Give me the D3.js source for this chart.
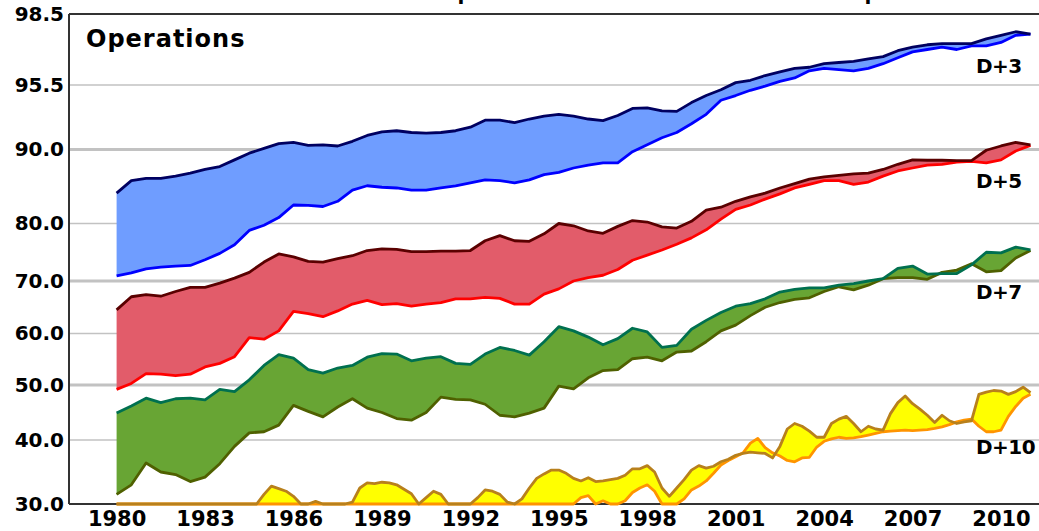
<!DOCTYPE html>
<html>
<head>
<meta charset="utf-8">
<script src="https://cdn.jsdelivr.net/npm/d3@7"></script>
<style>
  body { margin: 0; background: #fff; }
  svg { display: block; font-family: "DejaVu Sans", sans-serif; font-weight: bold; }
</style>
</head>
<body>
<svg id="chart" width="1039" height="531"></svg>
<script>
// axis ticks
const yTicks = [30, 40, 50, 60, 70, 80, 90, 95.5, 98.5];
const majorTicks = [50, 70, 90];
const xTicks = [1980, 1983, 1986, 1989, 1992, 1995, 1998, 2001, 2004, 2007, 2010];

// half-yearly dates for D+3, D+5, D+7
const halfYears = [1980, 1980.5, 1981, 1981.5, 1982, 1982.5, 1983, 1983.5, 1984, 1984.5,
  1985, 1985.5, 1986, 1986.5, 1987, 1987.5, 1988, 1988.5, 1989, 1989.5,
  1990, 1990.5, 1991, 1991.5, 1992, 1992.5, 1993, 1993.5, 1994, 1994.5,
  1995, 1995.5, 1996, 1996.5, 1997, 1997.5, 1998, 1998.5, 1999, 1999.5,
  2000, 2000.5, 2001, 2001.5, 2002, 2002.5, 2003, 2003.5, 2004, 2004.5,
  2005, 2005.5, 2006, 2006.5, 2007, 2007.5, 2008, 2008.5, 2009, 2009.5,
  2010, 2010.5, 2011];

// quarterly dates for D+10
const quarters = [
  1980, 1980.25, 1980.5, 1980.75, 1981, 1981.25, 1981.5, 1981.75,
  1982, 1982.25, 1982.5, 1982.75, 1983, 1983.25, 1983.5, 1983.75,
  1984, 1984.25, 1984.5, 1984.75, 1985, 1985.25, 1985.5, 1985.75,
  1986, 1986.25, 1986.5, 1986.75, 1987, 1987.25, 1987.5, 1987.75,
  1988, 1988.25, 1988.5, 1988.75, 1989, 1989.25, 1989.5, 1989.75,
  1990, 1990.25, 1990.5, 1990.75, 1991, 1991.25, 1991.5, 1991.75,
  1992, 1992.25, 1992.5, 1992.75, 1993, 1993.25, 1993.5, 1993.75,
  1994, 1994.25, 1994.5, 1994.75, 1995, 1995.25, 1995.5, 1995.75,
  1996, 1996.25, 1996.5, 1996.75, 1997, 1997.25, 1997.5, 1997.75,
  1998, 1998.25, 1998.5, 1998.75, 1999, 1999.25, 1999.5, 1999.75,
  2000, 2000.25, 2000.5, 2000.75, 2001, 2001.25, 2001.5, 2001.75,
  2002, 2002.25, 2002.5, 2002.75, 2003, 2003.25, 2003.5, 2003.75,
  2004, 2004.25, 2004.5, 2004.75, 2005, 2005.25, 2005.5, 2005.75,
  2006, 2006.25, 2006.5, 2006.75, 2007, 2007.25, 2007.5, 2007.75,
  2008, 2008.25, 2008.5, 2008.75, 2009, 2009.25, 2009.5, 2009.75,
  2010, 2010.25, 2010.5, 2010.75, 2011];

// anomaly correlation (%), upper = dark line, lower = bright line
const d3Upper = [84.1, 85.8, 86.1, 86.1, 86.4, 86.8, 87.3, 87.7, 88.6, 89.5,
  90.1, 90.5, 90.6, 90.35, 90.4, 90.3, 90.7, 91.2, 91.5, 91.6,
  91.45, 91.4, 91.45, 91.6, 91.9, 92.5, 92.5, 92.3, 92.6, 92.85,
  93.0, 92.85, 92.6, 92.46, 92.9, 93.5, 93.55, 93.3, 93.25, 94.0,
  94.6, 95.1, 95.6, 95.7, 95.9, 96.05, 96.2, 96.25, 96.4, 96.45,
  96.5, 96.6, 96.7, 96.95, 97.1, 97.2, 97.25, 97.25, 97.25, 97.45,
  97.6, 97.75, 97.65];
const d3Lower = [70.9, 71.4, 72.1, 72.4, 72.6, 72.7, 73.7, 74.8, 76.3, 78.8,
  79.7, 80.8, 82.5, 82.45, 82.3, 83.0, 84.5, 85.1, 84.9, 84.8,
  84.5, 84.5, 84.8, 85.1, 85.5, 85.9, 85.8, 85.5, 85.9, 86.6,
  86.9, 87.5, 87.9, 88.2, 88.2, 89.7, 90.4, 91.0, 91.45, 92.2,
  93.0, 94.2, 94.6, 95.05, 95.4, 95.65, 95.8, 96.1, 96.2, 96.15,
  96.1, 96.2, 96.4, 96.65, 96.9, 97.0, 97.1, 97.0, 97.15, 97.15,
  97.3, 97.6, 97.65];

const d5Upper = [64.5, 67.0, 67.4, 67.1, 68.0, 68.8, 68.8, 69.6, 70.5, 71.5,
  73.3, 74.7, 74.2, 73.4, 73.3, 73.9, 74.4, 75.3, 75.6, 75.5,
  75.1, 75.1, 75.2, 75.2, 75.3, 77.0, 77.9, 77.0, 76.9, 78.2,
  80.0, 79.6, 78.7, 78.3, 79.5, 80.4, 80.2, 79.4, 79.2, 80.3,
  81.8, 82.2, 83.0, 83.6, 84.1, 84.8, 85.4, 86.0, 86.3, 86.5,
  86.7, 86.8, 87.3, 88.0, 88.6, 88.55, 88.55, 88.5, 88.5, 89.9,
  90.3, 90.6, 90.4];
const d5Lower = [49.2, 50.3, 52.2, 52.1, 51.8, 52.1, 53.5, 54.2, 55.5, 59.2,
  58.9, 60.5, 64.2, 63.8, 63.2, 64.3, 65.6, 66.3, 65.5, 65.7,
  65.2, 65.6, 65.9, 66.6, 66.6, 66.9, 66.7, 65.6, 65.6, 67.5,
  68.5, 70.0, 70.6, 71.0, 72.0, 73.6, 74.5, 75.4, 76.4, 77.5,
  78.9, 80.6, 81.9, 82.5, 83.3, 84.0, 84.8, 85.3, 85.8, 85.8,
  85.3, 85.6, 86.4, 87.1, 87.5, 87.9, 88.0, 88.3, 88.4, 88.2,
  88.6, 89.8, 90.35];

const d7Upper = [44.9, 46.2, 47.6, 46.8, 47.5, 47.6, 47.3, 49.2, 48.8, 51.0,
  53.8, 55.9, 55.2, 53.0, 52.3, 53.3, 53.8, 55.4, 56.1, 56.0,
  54.7, 55.2, 55.5, 54.2, 54.0, 56.0, 57.3, 56.7, 55.8, 58.4,
  61.3, 60.5, 59.3, 57.8, 59.0, 61.0, 60.3, 57.3, 57.7, 60.8,
  62.5, 64.0, 65.2, 65.7, 66.6, 67.9, 68.4, 68.7, 68.7, 69.2,
  69.5, 70.0, 70.4, 72.2, 72.6, 71.2, 71.3, 71.3, 72.8, 75.0,
  74.9, 75.9, 75.4];
const d7Lower = [31.5, 33.0, 36.4, 35.0, 34.6, 33.5, 34.2, 36.3, 39.0, 41.3,
  41.5, 42.7, 46.3, 45.2, 44.2, 46.0, 47.5, 45.8, 45.0, 43.9,
  43.6, 45.0, 47.8, 47.4, 47.3, 46.5, 44.5, 44.2, 44.9, 45.8,
  49.8, 49.3, 51.4, 52.8, 53.0, 55.1, 55.4, 54.7, 56.4, 56.6,
  58.4, 60.5, 61.6, 63.4, 65.0, 65.9, 66.5, 66.8, 68.0, 68.9,
  68.3, 69.2, 70.4, 70.6, 70.6, 70.3, 71.5, 71.9, 73.0, 71.6,
  71.8, 74.0, 75.3];

// D+10 values below 30 sit on the bottom of the chart
const d10Upper = [
  30, 30, 30, 30,  30, 30, 30, 30,  30, 30, 30, 30,  30, 30, 30, 30,
  30, 30, 30, 30,  31.5, 32.8, 32.4, 32.0,  31.2, 30, 30, 30.4,  30, 30, 30, 30,
  30.3, 32.5, 33.3, 33.2,  33.4, 33.3, 33.0, 32.3,  31.6, 30, 31.0, 32.0,  31.5, 30, 30, 30,
  30, 31.0, 32.2, 32.0,  31.5, 30.3, 30, 30.8,  32.5, 34.0, 34.7, 35.3,  35.3, 34.8, 34.0, 33.6,
  34.1, 33.5, 33.6, 33.8,  34.0, 34.5, 35.5, 35.5,  36.0, 35.0, 32.5, 31.2,  32.5, 33.8, 35.3, 36.0,
  35.6, 35.9, 36.6, 37.0,  37.6, 37.9, 38.1, 38.0,  37.9, 37.2, 39.0, 42.0,  43.0, 42.5, 41.6, 40.5,
  40.5, 43.0, 43.8, 44.3,  43.0, 41.5, 42.5, 42.0,  41.8, 44.8, 46.8, 48.0,  46.6, 45.6, 44.5, 43.2,
  44.5, 43.5, 43.0, 43.3,  43.5, 48.3, 48.7, 49.0,  48.9, 48.3, 48.8, 49.6,  48.6];
const d10Lower = [
  30, 30, 30, 30,  30, 30, 30, 30,  30, 30, 30, 30,  30, 30, 30, 30,
  30, 30, 30, 30,  30, 30, 30, 30,  30, 30, 30, 30,  30, 30, 30, 30,
  30, 30, 30, 30,  30, 30, 30, 30,  30, 30, 30, 30,  30, 30, 30, 30,
  30, 30, 30, 30,  30, 30, 30, 30,  30, 30, 30, 30,  30, 30, 30, 31.0,
  31.3, 30, 30.5, 30,  30, 30.5, 31.8, 32.5,  33.0, 32.0, 30, 30,  30, 30.8, 32.2, 32.8,
  33.6, 34.8, 36.1, 36.8,  37.4, 38.0, 39.5, 40.3,  38.8, 38.0, 37.5, 36.8,  36.6, 37.2, 37.3, 38.9,
  39.8, 40.2, 40.5, 40.3,  40.4, 40.6, 40.9, 41.2,  41.5, 41.6, 41.7, 41.8,  41.7, 41.8, 41.9, 42.1,
  42.4, 42.8, 43.3, 43.6,  43.8, 42.5, 41.5, 41.5,  41.8, 44.3, 46.1, 47.6,  48.3];

const series = [
  { label: "D+3", dates: halfYears, hi: d3Upper, lo: d3Lower,
    fill: "#6f9dff", hiColor: "#000060", loColor: "#0000ff", labelY: 73 },
  { label: "D+5", dates: halfYears, hi: d5Upper, lo: d5Lower,
    fill: "#e25c6a", hiColor: "#5a0000", loColor: "#ff0000", labelY: 188 },
  { label: "D+7", dates: halfYears, hi: d7Upper, lo: d7Lower,
    fill: "#68a534", hiColor: "#00704f", loColor: "#4f6000", labelY: 299 },
  { label: "D+10", dates: quarters, hi: d10Upper, lo: d10Lower,
    fill: "#ffff00", hiColor: "#b8801c", loColor: "#ff9400", labelY: 454 }
];

const svg = d3.select("#chart");
const plotLeft = 69, plotRight = 1039, plotTop = 14, plotBottom = 504;

const x = d3.scaleLinear().domain([1980, 2010]).range([116.6, 1001]);
// the chart's vertical axis is stretched unevenly, so map tick by tick
const y = d3.scaleLinear()
  .domain(yTicks)
  .range([504, 440, 385, 333.5, 281, 223.5, 149.5, 85, 14])
  .clamp(true);

// gridlines
svg.append("g")
  .selectAll("line")
  .data(yTicks.filter((v) => v > 30 && v < 98.5))
  .join("line")
  .attr("x1", plotLeft)
  .attr("x2", plotRight)
  .attr("y1", (d) => y(d))
  .attr("y2", (d) => y(d))
  .attr("stroke", "#c2c2c2")
  .attr("stroke-width", (d) => (majorTicks.includes(d) ? 3 : 1.6));

// frame
const frame = svg.append("g").attr("stroke", "#333").attr("stroke-width", 2);
frame.append("line").attr("x1", plotLeft).attr("x2", plotRight).attr("y1", plotTop).attr("y2", plotTop);
frame.append("line").attr("x1", plotLeft).attr("x2", plotRight).attr("y1", plotBottom).attr("y2", plotBottom);
frame.append("line").attr("x1", plotLeft).attr("x2", plotLeft).attr("y1", plotTop).attr("y2", plotBottom);

// bands between the two lines of each forecast range
series.forEach((s) => {
  const rows = s.dates.map((t, i) => ({ t: t, hi: s.hi[i], lo: s.lo[i] }));
  const g = svg.append("g").attr("class", "band");

  g.append("path")
    .datum(rows)
    .attr("fill", s.fill)
    .attr("d", d3.area().x((d) => x(d.t)).y0((d) => y(d.lo)).y1((d) => y(d.hi)));

  g.append("path")
    .datum(rows)
    .attr("fill", "none")
    .attr("stroke", s.loColor)
    .attr("stroke-width", 2.8)
    .attr("stroke-linejoin", "round")
    .attr("d", d3.line().x((d) => x(d.t)).y((d) => y(d.lo)));

  g.append("path")
    .datum(rows)
    .attr("fill", "none")
    .attr("stroke", s.hiColor)
    .attr("stroke-width", 2.8)
    .attr("stroke-linejoin", "round")
    .attr("d", d3.line().x((d) => x(d.t)).y((d) => y(d.hi)));

  svg.append("text")
    .attr("x", 976)
    .attr("y", s.labelY)
    .attr("font-size", 20)
    .attr("letter-spacing", -0.5)
    .attr("fill", "#000")
    .text(s.label);
});

// y axis labels
svg.append("g")
  .attr("transform", `translate(${plotLeft},0)`)
  .call(d3.axisLeft(y).tickValues(yTicks).tickFormat(d3.format(".1f")).tickSize(0).tickPadding(5))
  .call((g) => g.select(".domain").remove())
  .attr("font-family", null)
  .attr("font-size", 20)
  .selectAll("text")
  .attr("fill", "#000");

// x axis labels
svg.append("g")
  .attr("transform", `translate(0,${plotBottom})`)
  .call(d3.axisBottom(x).tickValues(xTicks).tickFormat(d3.format("d")).tickSize(0).tickPadding(7))
  .call((g) => g.select(".domain").remove())
  .attr("font-family", null)
  .attr("font-size", 21)
  .selectAll("text")
  .attr("fill", "#000");

// panel label
svg.append("text")
  .attr("x", 86)
  .attr("y", 47)
  .attr("font-size", 24)
  .attr("letter-spacing", 1)
  .text("Operations");

// title sits above the picture, only its descenders show
[["Northern hemisphere", 461], ["Southern hemisphere", 868]].forEach(([t, px]) => {
  const txt = svg.append("text").attr("y", -0.5).attr("font-size", 20).text(t);
  const pos = txt.node().getStartPositionOfChar(t.indexOf("p")).x;
  txt.attr("x", px - pos - 3.5);
});
</script>
</body>
</html>
